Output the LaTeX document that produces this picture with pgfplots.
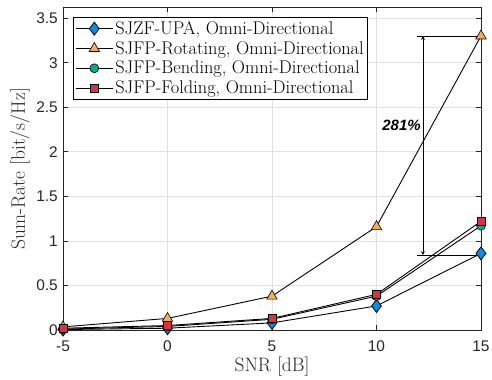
\documentclass[border=0pt]{standalone}
\usepackage{fontspec}
\usepackage{pgfplots}
\pgfplotsset{compat=1.18}
\newfontfamily\helv{Liberation Sans}
\definecolor{cblue}{RGB}{10,140,230}
\definecolor{corange}{RGB}{242,172,92}
\definecolor{cgreen}{RGB}{0,172,135}
\definecolor{cred}{RGB}{214,50,72}
\definecolor{gridgray}{RGB}{225,225,225}
\definecolor{axgray}{RGB}{38,38,38}
\begin{document}
\begin{tikzpicture}
\begin{axis}[
  name=ax,
  scale only axis,
  width=418bp, height=323bp,
  xmin=-5, xmax=15, ymin=0, ymax=3.625,
  xtick={-5,0,5,10,15},
  ytick={0,0.5,1,1.5,2,2.5,3,3.5},
  yticklabels={0,0.5,1,1.5,2,2.5,3,3.5},
  xticklabels={-5,0,5,10,15},
  tick align=inside,
  xtick pos=both, ytick pos=both,
  major tick length=5bp,
  grid=major,
  major grid style={gridgray, line width=0.7pt},
  axis line style={axgray, line width=0.8pt},
  tick style={axgray, line width=0.7pt},
  ticklabel style={font=\helv\fontsize{15.5}{16}\selectfont, text=axgray},
  xticklabel style={inner sep=0pt, anchor=north, yshift=-11bp},
  yticklabel style={inner sep=0pt, anchor=east, xshift=-5bp},
  xlabel={SNR [dB]},
  ylabel={Sum-Rate [bit/s/Hz]},
  label style={font=\fontsize{19.5}{21}\selectfont, text=axgray},
  xlabel style={at={(axis description cs:0.5,0)}, anchor=north, inner sep=0pt, yshift=-27bp},
  ylabel style={at={(axis description cs:0,0.5)}, anchor=south, inner sep=0pt, yshift=33bp},
  legend style={at={(0.0239,0.969)}, anchor=north west, draw=black, line width=0.8pt,
    font=\fontsize{18.4}{20}\selectfont, row sep=1.5bp, inner xsep=2bp, inner ysep=2bp,
    cells={anchor=west}},
  legend cell align=left,
  legend image code/.code={\draw[mark repeat=2,mark phase=2] plot coordinates {(0bp,0bp) (18.5bp,0bp) (37bp,0bp)};},
  every axis plot/.append style={line width=0.9pt, black},
]
\addplot[mark=diamond*, mark size=6.5bp, mark options={fill=cblue, draw=black, line width=0.8pt}]
  coordinates {(-5,0.005) (0,0.02) (5,0.08) (10,0.27) (15,0.86)};
\addlegendentry{SJZF-UPA, Omni-Directional}
\addplot[mark=triangle*, mark size=6bp, mark options={fill=corange, draw=black, line width=0.6pt}]
  coordinates {(-5,0.035) (0,0.13) (5,0.38) (10,1.16) (15,3.30)};
\addlegendentry{SJFP-Rotating, Omni-Directional}
\addplot[mark=*, mark size=4.5bp, mark options={fill=cgreen, draw=black, line width=0.6pt}]
  coordinates {(-5,0.01) (0,0.04) (5,0.12) (10,0.38) (15,1.17)};
\addlegendentry{SJFP-Bending, Omni-Directional}
\addplot[mark=square*, mark size=4bp, mark options={fill=cred, draw=black, line width=0.6pt}]
  coordinates {(-5,0.02) (0,0.05) (5,0.13) (10,0.40) (15,1.22)};
\addlegendentry{SJFP-Folding, Omni-Directional}
\draw[line width=0.8pt] (axis cs:11.93,3.30) -- (axis cs:15,3.30);
\draw[line width=0.8pt] (axis cs:11.93,0.84) -- (axis cs:15,0.84);
\draw[line width=0.8pt, <->, >=stealth] (axis cs:12.22,3.30) -- (axis cs:12.22,0.84);
\node[font=\helv\bfseries\itshape\fontsize{15}{16}\selectfont, anchor=east, inner sep=0pt] at (axis cs:12.12,2.30) {281\%};
\end{axis}
\path ([shift={(-63bp,-50bp)}]ax.south west) rectangle ([shift={(11bp,7bp)}]ax.north east);
\end{tikzpicture}
\end{document}
